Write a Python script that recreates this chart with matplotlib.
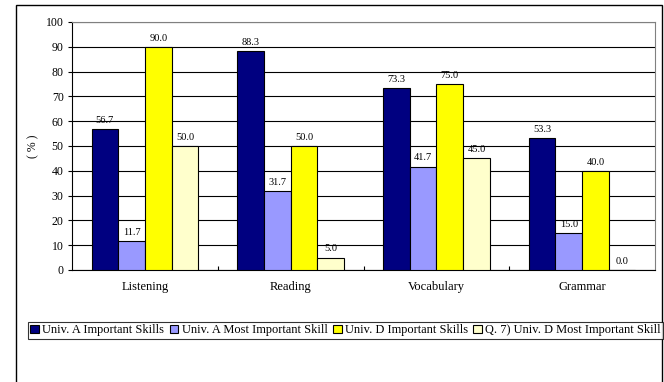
import matplotlib
matplotlib.use("Agg")
import matplotlib.pyplot as plt
import numpy as np
from matplotlib.patches import Rectangle

plt.rcParams["font.family"] = ["Liberation Serif", "DejaVu Serif"]

skills = ["Listening", "Reading", "Vocabulary", "Grammar"]
series_names = [
    "Univ. A Important Skills",
    "Univ. A Most Important Skill",
    "Univ. D Important Skills",
    "Q. 7) Univ. D Most Important Skill",
]
univ_a_important = [56.7, 88.3, 73.3, 53.3]
univ_a_most = [11.7, 31.7, 41.7, 15.0]
univ_d_important = [90.0, 50.0, 75.0, 40.0]
univ_d_most = [50.0, 5.0, 45.0, 0.0]
colors = ["#000080", "#9999FF", "#FFFF00", "#FFFFCC"]

W, H = 664, 382
fig = plt.figure(figsize=(W / 100, H / 100), dpi=100)
ax = fig.add_axes([72 / W, 1 - 270 / H, (655 - 72) / W, (270 - 22) / H])

centers = np.arange(len(skills)) + 0.5
bw = 0.183
all_series = [univ_a_important, univ_a_most, univ_d_important, univ_d_most]
for i, (vals, col, name) in enumerate(zip(all_series, colors, series_names)):
    x = centers + (i - 1.5) * bw
    bars = ax.bar(x, vals, width=bw, color=col, edgecolor="black", linewidth=0.8,
                  label=name, zorder=3)
    for b, v in zip(bars, vals):
        ax.annotate(f"{v:.1f}", (b.get_x() + b.get_width() / 2, v),
                    xytext=(0, 3), textcoords="offset points",
                    ha="center", va="bottom", fontsize=7.5)

ax.set_xlim(0, len(skills))
ax.set_ylim(0, 100)
ax.set_yticks(np.arange(0, 101, 10))
ax.tick_params(axis="y", direction="out", length=3, labelsize=8.5, pad=3)
ax.yaxis.grid(True, color="black", linewidth=0.8, zorder=0)
ax.set_axisbelow(True)

# boundary ticks between categories, labels at the centres
ax.set_xticks(np.arange(1, len(skills)))
ax.set_xticklabels([])
ax.tick_params(axis="x", which="major", direction="in", length=3)
ax.set_xticks(centers, minor=True)
ax.set_xticklabels(skills, minor=True, fontsize=9)
ax.tick_params(axis="x", which="minor", length=0, pad=8)

ax.set_ylabel("( % )", fontsize=8.5, labelpad=5)
for side in ("top", "right"):
    ax.spines[side].set_color("#808080")
for side in ("left", "bottom"):
    ax.spines[side].set_color("black")

fig.legend(loc="upper left", bbox_to_anchor=(28 / W, 1 - 322 / H), ncol=4,
           fontsize=8.9, frameon=True, fancybox=False, edgecolor="black",
           handlelength=0.7, handleheight=0.7, handletextpad=0.25,
           columnspacing=0.45, borderpad=0.2, borderaxespad=0)
fig.legends[0].get_frame().set_linewidth(0.8)

fig.add_artist(Rectangle((16 / W, -0.1), (662 - 16) / W, 1.1 - 5 / H,
                         transform=fig.transFigure, fill=False,
                         edgecolor="black", linewidth=1))

fig.savefig("out.png", dpi=100)
